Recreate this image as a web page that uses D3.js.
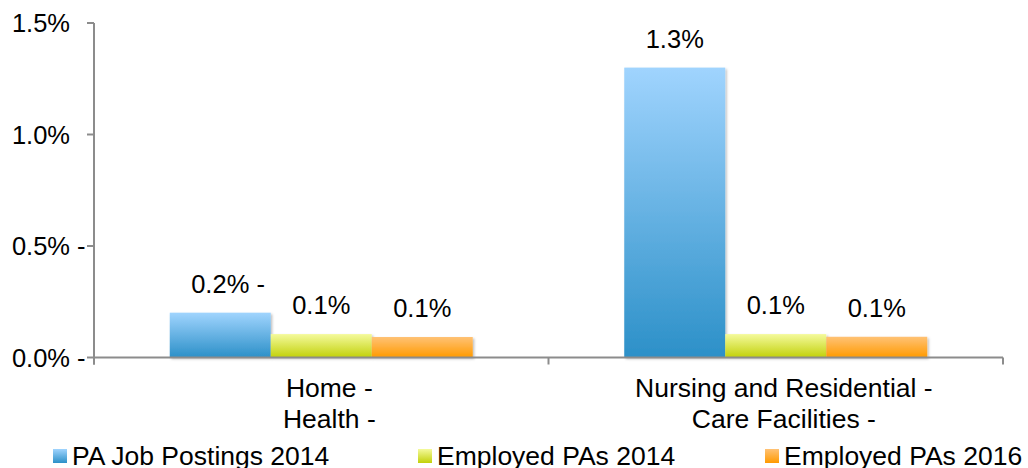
<!DOCTYPE html>
<html>
<head>
<meta charset="utf-8">
<script src="https://cdn.jsdelivr.net/npm/d3@7"></script>
<style>
  body { margin: 0; background: #fff; }
  svg text { font-family: "Liberation Sans", Arial, sans-serif; fill: #000; }
</style>
</head>
<body>
<div class="visholder"></div>
<script>
// data
const categories = ["Home Health", "Nursing and Residential Care Facilities"];
const categoryLines = [["Home", "Health"], ["Nursing and Residential", "Care Facilities"]];
const seriesNames = ["PA Job Postings 2014", "Employed PAs 2014", "Employed PAs 2016"];
const postings2014 = [0.201, 1.300];
const employed2014 = [0.105, 0.105];
const employed2016 = [0.092, 0.093];
const valueLabels = [["0.2%", "0.1%", "0.1%"], ["1.3%", "0.1%", "0.1%"]];
const yTicks = [0, 0.5, 1.0, 1.5];

// costants
const width = 1028, height = 468,
    plotLeft = 94, plotRight = 1003, plotTop = 23, plotBottom = 357.5;
const dash = "\u00a0-";
const colors = [
    ["#a0d4fe", "#2c90c8"],
    ["#f4fa9c", "#c2d10a"],
    ["#ffc275", "#ff9a00"]
];
const series = [postings2014, employed2014, employed2016];

let svg = d3.select(".visholder").append("svg")
    .attr("width", width)
    .attr("height", height);

// gradients
let defs = svg.append("defs");
colors.forEach((c, i) => {
    let g = defs.append("linearGradient").attr("id", "grad" + i)
        .attr("x1", 0).attr("y1", 0).attr("x2", 0).attr("y2", 1);
    g.append("stop").attr("offset", "0%").attr("stop-color", c[0]);
    g.append("stop").attr("offset", "100%").attr("stop-color", c[1]);
});
defs.append("filter").attr("id", "shadow")
    .attr("x", "-10%").attr("y", "-10%").attr("width", "130%").attr("height", "130%")
    .append("feDropShadow")
    .attr("dx", 1.5).attr("dy", 1.5).attr("stdDeviation", 1.2)
    .attr("flood-color", "#000").attr("flood-opacity", 0.25);

// scales
let x0 = d3.scaleBand().domain(categories).range([plotLeft, plotRight]).paddingInner(0).paddingOuter(0);
let x1 = d3.scaleBand().domain(seriesNames)
    .range([0, x0.bandwidth()]).paddingOuter(0.75).paddingInner(0);
let y = d3.scaleLinear().domain([0, 1.5]).range([plotBottom, plotTop]);

// bars
let rows = categories.map((c, i) => seriesNames.map((s, j) => ({
    cat: c, ci: i, name: s, si: j, value: series[j][i], label: valueLabels[i][j]
})));

let groups = svg.selectAll(".group").data(rows).enter().append("g")
    .attr("class", "group")
    .attr("transform", (d, i) => `translate(${x0(categories[i])},0)`);

groups.selectAll("rect").data(d => d).enter().append("rect")
    .attr("x", d => x1(d.name))
    .attr("y", d => y(d.value))
    .attr("width", x1.bandwidth())
    .attr("height", d => y(0) - y(d.value))
    .attr("fill", d => `url(#grad${d.si})`)
    .attr("filter", "url(#shadow)");

// value labels
groups.selectAll(".vlabel").data(d => d).enter().append("text")
    .attr("class", "vlabel")
    .attr("x", d => x1(d.name) + x1.bandwidth() / 2)
    .attr("y", d => y(d.value) - 20)
    .attr("text-anchor", "middle")
    .style("font-size", "25.5px")
    .text(d => d.label)
    .each(function (d) {
        if (d.ci === 0 && d.si === 0) {
            let w = this.getComputedTextLength();
            d3.select(this.parentNode).append("text")
                .attr("x", x1(d.name) + x1.bandwidth() / 2 + w / 2)
                .attr("y", y(d.value) - 20)
                .style("font-size", "25.5px")
                .text(dash);
        }
    });

// x axis
let xAxis = svg.append("g").attr("transform", `translate(0,${plotBottom})`);
xAxis.append("line").attr("x1", plotLeft).attr("x2", plotRight)
    .attr("stroke", "#8c8c8c").attr("stroke-width", 2);
[plotLeft, (plotLeft + plotRight) / 2, plotRight].forEach(v => {
    xAxis.append("line").attr("x1", v).attr("x2", v).attr("y1", 0).attr("y2", 7)
        .attr("stroke", "#8c8c8c").attr("stroke-width", 2);
});

// category labels
categoryLines.forEach((lines, i) => {
    let cx = x0(categories[i]) + x0.bandwidth() / 2;
    lines.forEach((ln, k) => {
        let t = svg.append("text")
            .attr("x", cx).attr("y", 397 + k * 31)
            .attr("text-anchor", "middle")
            .style("font-size", "26.5px")
            .text(ln);
        let w = t.node().getComputedTextLength();
        svg.append("text").attr("x", cx + w / 2).attr("y", 397 + k * 31)
            .style("font-size", "26.5px").text(dash);
    });
});

// y axis
let yAxis = svg.append("g");
yAxis.append("line").attr("x1", plotLeft).attr("x2", plotLeft)
    .attr("y1", y(1.5)).attr("y2", plotBottom + 7)
    .attr("stroke", "#8c8c8c").attr("stroke-width", 2);
yTicks.forEach(v => {
    yAxis.append("line").attr("x1", plotLeft - 7).attr("x2", plotLeft)
        .attr("y1", y(v)).attr("y2", y(v))
        .attr("stroke", "#8c8c8c").attr("stroke-width", 2);
    yAxis.append("text")
        .attr("x", 70).attr("y", y(v)).attr("dy", "0.36em")
        .attr("text-anchor", "end")
        .style("font-size", "25.5px")
        .text(d3.format(".1f")(v) + "%");
    if (v < 1) {
        yAxis.append("text").attr("x", 70).attr("y", y(v)).attr("dy", "0.36em")
            .style("font-size", "25.5px").text(dash);
    }
});

// legend
const legendX = [53, 418, 765];
seriesNames.forEach((s, i) => {
    let g = svg.append("g").attr("transform", `translate(${legendX[i]},449)`);
    g.append("rect").attr("width", 14).attr("height", 14)
        .attr("fill", `url(#grad${i})`);
    g.append("text").attr("x", 19).attr("y", 16)
        .style("font-size", "26.5px").text(s);
});
</script>
</body>
</html>
